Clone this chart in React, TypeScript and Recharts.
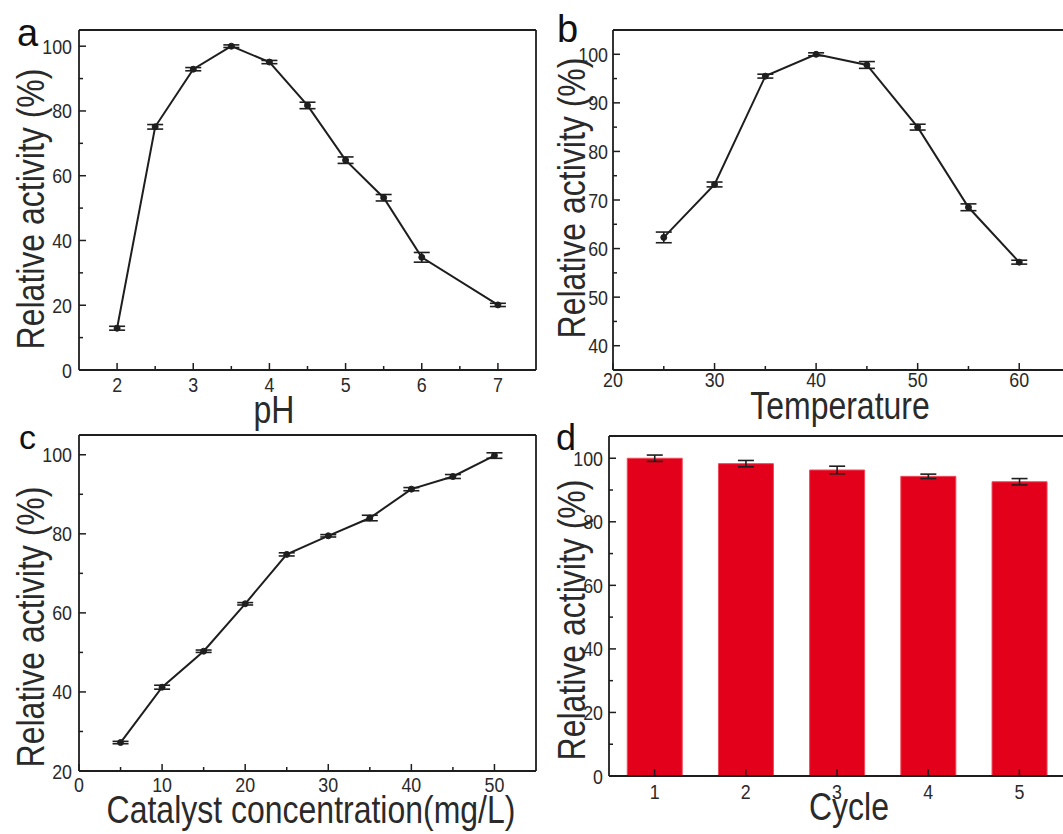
import React from "react";
import {
  Bar,
  BarChart,
  ErrorBar,
  Line,
  LineChart,
  XAxis,
  YAxis,
} from "recharts";

// panel a: pH
const phValues = [2, 2.5, 3, 3.5, 4, 4.5, 5, 5.5, 6, 7];
const phActivity = [12.9, 75.1, 92.9, 100, 95.1, 81.7, 64.8, 53.2, 34.8, 20.1];
const phError = [0.6, 0.7, 0.5, 0.4, 0.5, 1, 1, 1, 1.5, 0.5];
const phXTicks = [2, 2.5, 3, 3.5, 4, 4.5, 5, 5.5, 6, 6.5, 7];
const phXLabels = [2, 3, 4, 5, 6, 7];
const phYTicks = [0, 10, 20, 30, 40, 50, 60, 70, 80, 90, 100];
const phYLabels = [0, 20, 40, 60, 80, 100];

// panel b: temperature
const tempValues = [25, 30, 35, 40, 45, 50, 55, 60];
const tempActivity = [62.3, 73.2, 95.5, 100, 97.8, 85, 68.5, 57.2];
const tempError = [1.1, 0.5, 0.4, 0.3, 0.7, 0.6, 0.7, 0.4];
const tempXTicks = [20, 25, 30, 35, 40, 45, 50, 55, 60];
const tempXLabels = [20, 30, 40, 50, 60];
const tempYTicks = [40, 45, 50, 55, 60, 65, 70, 75, 80, 85, 90, 95, 100];
const tempYLabels = [40, 50, 60, 70, 80, 90, 100];

// panel c: catalyst concentration
const catValues = [5, 10, 15, 20, 25, 30, 35, 40, 45, 50];
const catActivity = [27.2, 41.2, 50.3, 62.3, 74.8, 79.5, 84, 91.3, 94.5, 99.8];
const catError = [0.3, 0.5, 0.3, 0.3, 0.4, 0.3, 0.7, 0.4, 0.5, 0.7];
const catXTicks = [0, 5, 10, 15, 20, 25, 30, 35, 40, 45, 50];
const catXLabels = [0, 10, 20, 30, 40, 50];
const catYTicks = [20, 30, 40, 50, 60, 70, 80, 90, 100];
const catYLabels = [20, 40, 60, 80, 100];

// panel d: reuse cycles
const cycles = [1, 2, 3, 4, 5];
const cycleActivity = [100, 98.3, 96.3, 94.3, 92.6];
const cycleError = [1, 1, 1.2, 0.7, 1];
const cycleYTicks = [0, 10, 20, 30, 40, 50, 60, 70, 80, 90, 100];
const cycleYLabels = [0, 20, 40, 60, 80, 100];

const toRows = (xs: number[], ys: number[], errs: number[]) =>
  xs.map((x, i) => ({ x, y: ys[i], err: errs[i] }));

const phData = toRows(phValues, phActivity, phError);
const tempData = toRows(tempValues, tempActivity, tempError);
const catData = toRows(catValues, catActivity, catError);
const cycleData = cycles.map((c, i) => ({ cycle: c, y: cycleActivity[i], err: cycleError[i] }));

const INK = "#1e1e1e";
const TEXT = "#2a2a2a";
const RED = "#e3001b";
const FONT = '"Liberation Sans", Arial, sans-serif';
const NARROW = 0.82; // squeeze Arial to look like Arial Narrow
const TICK_NARROW = 0.85;
const TICK_SIZE = 21;

const makeXTick = (labels: (number | string)[], baseline: number) => (props: any) => {
  const { x, y, payload } = props;
  const major = labels.includes(payload.value);
  return (
    <g>
      <line x1={x} x2={x} y1={y} y2={y - (major ? 7 : 4)} stroke={INK} strokeWidth={1.5} />
      {major && (
        <text
          transform={`translate(${x},${y + baseline}) scale(${TICK_NARROW},1)`}
          textAnchor="middle"
          fontFamily={FONT}
          fontSize={TICK_SIZE}
          fill={TEXT}
        >
          {payload.value}
        </text>
      )}
    </g>
  );
};

const makeYTick = (labels: (number | string)[], gap: number) => (props: any) => {
  const { x, y, payload } = props;
  const major = labels.includes(payload.value);
  return (
    <g>
      <line x1={x} x2={x + (major ? 7 : 4)} y1={y} y2={y} stroke={INK} strokeWidth={1.5} />
      {major && (
        <text
          transform={`translate(${x - gap},${y + 7.5}) scale(${TICK_NARROW},1)`}
          textAnchor="end"
          fontFamily={FONT}
          fontSize={TICK_SIZE}
          fill={TEXT}
        >
          {payload.value}
        </text>
      )}
    </g>
  );
};

const axisLine = { stroke: INK, strokeWidth: 1.8 };

function Title({ text, cx, baseline, size = 39 }: { text: string; cx: number; baseline: number; size?: number }) {
  return (
    <div
      style={{
        position: "absolute",
        left: cx,
        top: baseline - 0.846 * size,
        transform: `translateX(-50%) scaleX(${NARROW})`,
        fontFamily: FONT,
        fontSize: size,
        lineHeight: 1,
        color: TEXT,
        whiteSpace: "nowrap",
      }}
    >
      {text}
    </div>
  );
}

function VTitle({ text, cx, cy, size = 39 }: { text: string; cx: number; cy: number; size?: number }) {
  return (
    <div
      style={{
        position: "absolute",
        left: cx,
        top: cy,
        transform: `translate(-50%, -50%) rotate(-90deg) scaleX(${NARROW})`,
        fontFamily: FONT,
        fontSize: size,
        lineHeight: 1,
        color: TEXT,
        whiteSpace: "nowrap",
      }}
    >
      {text}
    </div>
  );
}

function Letter({ text, x, baseline, size }: { text: string; x: number; baseline: number; size: number }) {
  return (
    <div
      style={{
        position: "absolute",
        left: x,
        top: baseline - 0.846 * size,
        fontFamily: FONT,
        fontSize: size,
        lineHeight: 1,
        color: "#111",
      }}
    >
      {text}
    </div>
  );
}

type Margin = { top: number; right: number; bottom: number; left: number };

// axes need at least 1px of room, so the margins give that pixel back
const shrink = (m: Margin): Margin => ({
  top: m.top - 1,
  right: m.right - 1,
  bottom: m.bottom - 1,
  left: m.left - 1,
});

function LinePanel({
  data,
  xDomain,
  yDomain,
  xTicks,
  xLabels,
  yTicks,
  yLabels,
  margin,
  xBaseline,
  yGap,
}: {
  data: { x: number; y: number; err: number }[];
  xDomain: [number, number];
  yDomain: [number, number];
  xTicks: number[];
  xLabels: number[];
  yTicks: number[];
  yLabels: number[];
  margin: Margin;
  xBaseline: number;
  yGap: number;
}) {
  return (
    <LineChart width={560} height={420} data={data} margin={shrink(margin)} style={{ overflow: "visible" }}>
      <XAxis
        dataKey="x"
        type="number"
        domain={xDomain}
        ticks={xTicks}
        interval={0}
        height={1}
        tickSize={0}
        tickMargin={0}
        tickLine={false}
        axisLine={axisLine}
        tick={makeXTick(xLabels, xBaseline)}
        allowDataOverflow
      />
      <XAxis
        xAxisId="top"
        orientation="top"
        dataKey="x"
        type="number"
        domain={xDomain}
        height={1}
        tick={false}
        tickLine={false}
        axisLine={axisLine}
        allowDataOverflow
      />
      <YAxis
        type="number"
        domain={yDomain}
        ticks={yTicks}
        interval={0}
        width={1}
        tickSize={0}
        tickMargin={0}
        tickLine={false}
        axisLine={axisLine}
        tick={makeYTick(yLabels, yGap)}
        allowDataOverflow
      />
      <YAxis
        yAxisId="right"
        orientation="right"
        type="number"
        domain={yDomain}
        width={1}
        tick={false}
        tickLine={false}
        axisLine={axisLine}
        allowDataOverflow
      />
      <Line
        type="linear"
        dataKey="y"
        stroke={INK}
        strokeWidth={2}
        dot={{ r: 3, fill: INK, stroke: INK, strokeWidth: 1 }}
        isAnimationActive={false}
      >
        <ErrorBar dataKey="err" direction="y" width={8} stroke={INK} strokeWidth={1.6} />
      </Line>
    </LineChart>
  );
}

export default function App() {
  return (
    <div
      style={{
        position: "absolute",
        left: 0,
        top: 0,
        width: 1063,
        height: 834,
        overflow: "hidden",
        background: "#fff",
      }}
    >
      {/* a */}
      <div style={{ position: "absolute", left: 0, top: 0 }}>
        <LinePanel
          data={phData}
          xDomain={[1.5, 7.5]}
          yDomain={[0, 105]}
          xTicks={phXTicks}
          xLabels={phXLabels}
          yTicks={phYTicks}
          yLabels={phYLabels}
          margin={{ top: 30, right: 24, bottom: 50, left: 79 }}
          xBaseline={22}
          yGap={7}
        />
      </div>
      {/* b */}
      <div style={{ position: "absolute", left: 530, top: 0 }}>
        <LinePanel
          data={tempData}
          xDomain={[20, 65]}
          yDomain={[35, 105]}
          xTicks={tempXTicks}
          xLabels={tempXLabels}
          yTicks={tempYTicks}
          yLabels={tempYLabels}
          margin={{ top: 30, right: 20, bottom: 50, left: 83 }}
          xBaseline={17}
          yGap={5}
        />
      </div>
      {/* c */}
      <div style={{ position: "absolute", left: 0, top: 420 }}>
        <LinePanel
          data={catData}
          xDomain={[0, 55]}
          yDomain={[20, 105]}
          xTicks={catXTicks}
          xLabels={catXLabels}
          yTicks={catYTicks}
          yLabels={catYLabels}
          margin={{ top: 15, right: 24, bottom: 69, left: 79 }}
          xBaseline={21}
          yGap={7}
        />
      </div>
      {/* d */}
      <div style={{ position: "absolute", left: 530, top: 420 }}>
        <BarChart
          width={560}
          height={420}
          data={cycleData}
          margin={shrink({ top: 16, right: 25, bottom: 64, left: 79 })}
          barCategoryGap="20%"
          style={{ overflow: "visible" }}
        >
          <XAxis
            dataKey="cycle"
            interval={0}
            height={1}
            tickSize={0}
            tickMargin={0}
            tickLine={false}
            axisLine={axisLine}
            tick={makeXTick(cycles, 23)}
          />
          <XAxis
            xAxisId="top"
            orientation="top"
            dataKey="cycle"
            height={1}
            tick={false}
            tickLine={false}
            axisLine={axisLine}
          />
          <YAxis
            type="number"
            domain={[0, 107]}
            ticks={cycleYTicks}
            interval={0}
            width={1}
            tickSize={0}
            tickMargin={0}
            tickLine={false}
            axisLine={axisLine}
            tick={makeYTick(cycleYLabels, 6)}
            allowDataOverflow
          />
          <YAxis
            yAxisId="right"
            orientation="right"
            domain={[0, 107]}
            width={1}
            tick={false}
            tickLine={false}
            axisLine={axisLine}
          />
          <Bar dataKey="y" fill={RED} stroke="#ee4a5a" strokeWidth={1} isAnimationActive={false}>
            <ErrorBar dataKey="err" direction="y" width={8} stroke={INK} strokeWidth={1.6} />
          </Bar>
        </BarChart>
      </div>

      <Letter text="a" x={17} baseline={46} size={38} />
      <Letter text="b" x={557} baseline={42} size={38} />
      <Letter text="c" x={19} baseline={449} size={34} />
      <Letter text="d" x={556} baseline={450} size={36} />

      <VTitle text="Relative activity (%)" cx={29.5} cy={208.5} />
      <VTitle text="Relative activity (%)" cx={570.5} cy={198} />
      <VTitle text="Relative activity (%)" cx={29.5} cy={626.5} />
      <VTitle text="Relative activity (%)" cx={570.5} cy={620} />

      <Title text="pH" cx={274} baseline={423} />
      <Title text="Temperature" cx={840} baseline={419} />
      <Title text="Catalyst concentration(mg/L)" cx={311} baseline={823} />
      <Title text="Cycle" cx={849} baseline={820} />
    </div>
  );
}
